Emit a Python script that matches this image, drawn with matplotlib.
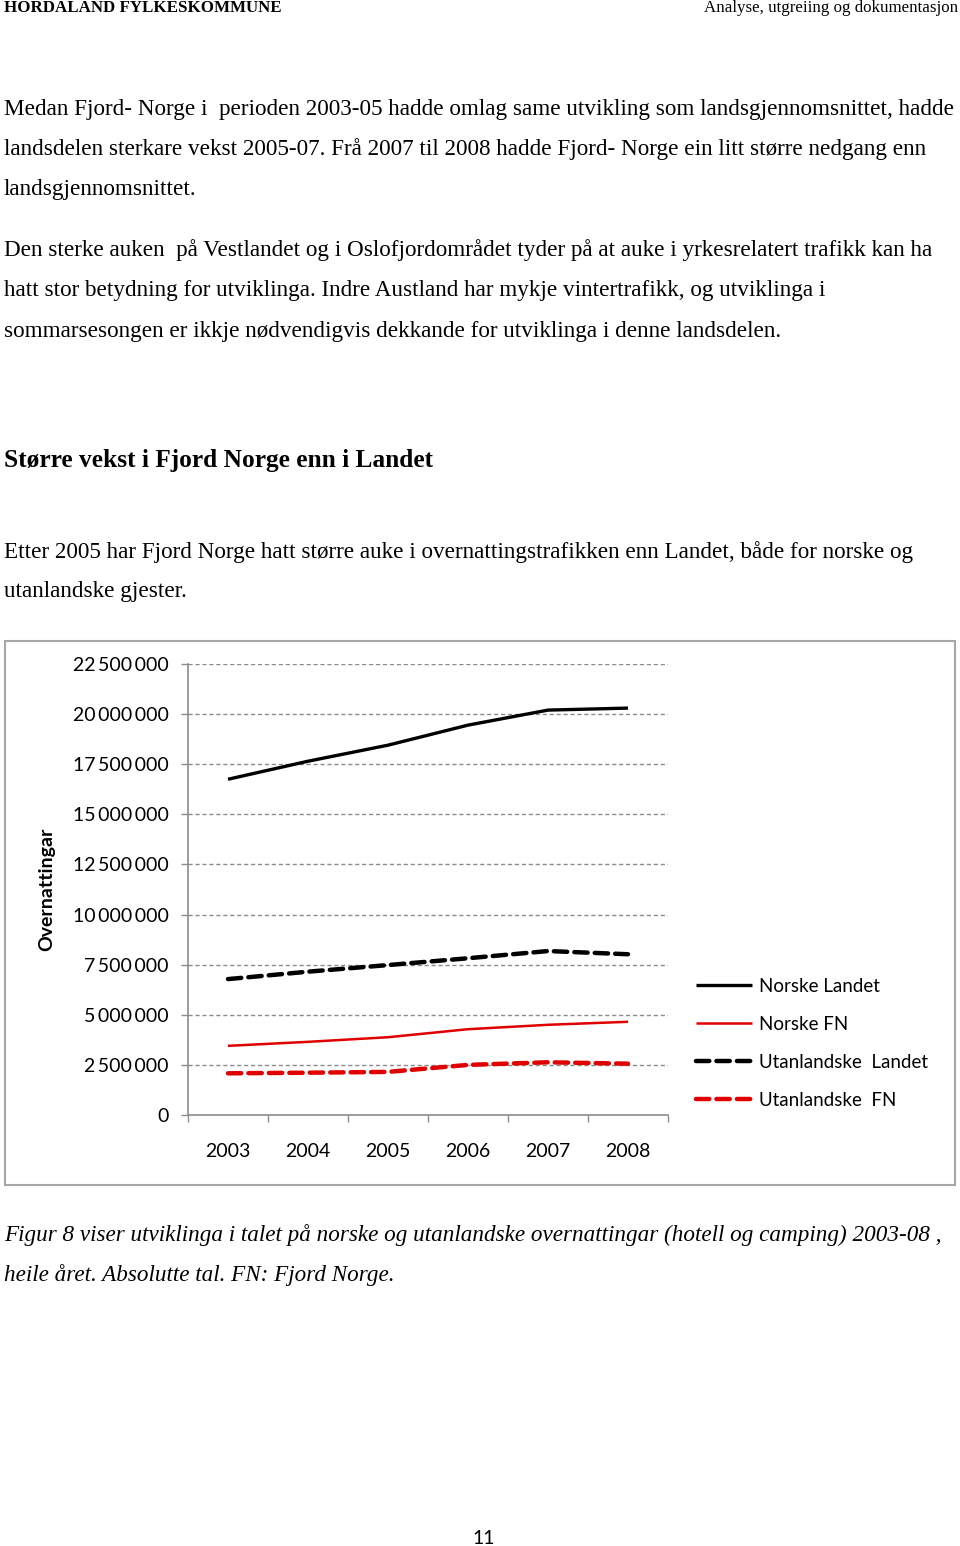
"""Page 11 -- Overnattingar Fjord Norge vs Landet, 2003-08 (re-draw)."""

import matplotlib
matplotlib.use("Agg")
import matplotlib.pyplot as plt
from matplotlib.patches import Rectangle
from matplotlib.ticker import FuncFormatter

# --------------------------------------------------------------------------- #
#  Data
# --------------------------------------------------------------------------- #
YEARS = ["2003", "2004", "2005", "2006", "2007", "2008"]

NORSKE_LANDET      = [16_750_000, 17_650_000, 18_450_000, 19_450_000, 20_200_000, 20_300_000]
NORSKE_FN          = [3_450_000, 3_650_000, 3_880_000, 4_280_000, 4_500_000, 4_650_000]
UTANLANDSKE_LANDET = [6_780_000, 7_150_000, 7_480_000, 7_820_000, 8_180_000, 8_020_000]
UTANLANDSKE_FN     = [2_080_000, 2_110_000, 2_150_000, 2_500_000, 2_630_000, 2_560_000]

SERIES_LABELS = ["Norske Landet", "Norske FN", "Utanlandske  Landet", "Utanlandske  FN"]
Y_TICKS = [0, 2_500_000, 5_000_000, 7_500_000, 10_000_000, 12_500_000,
           15_000_000, 17_500_000, 20_000_000, 22_500_000]

PARA_1 = [
    "Medan Fjord- Norge i  perioden 2003-05 hadde omlag same utvikling som landsgjennomsnittet, hadde",
    "landsdelen sterkare vekst 2005-07. Frå 2007 til 2008 hadde Fjord- Norge ein litt større nedgang enn",
    "landsgjennomsnittet.",
]
PARA_2 = [
    "Den sterke auken  på Vestlandet og i Oslofjordområdet tyder på at auke i yrkesrelatert trafikk kan ha",
    "hatt stor betydning for utviklinga. Indre Austland har mykje vintertrafikk, og utviklinga i",
    "sommarsesongen er ikkje nødvendigvis dekkande for utviklinga i denne landsdelen.",
]
HEADING = "Større vekst i Fjord Norge enn i Landet"
PARA_3 = [
    "Etter 2005 har Fjord Norge hatt større auke i overnattingstrafikken enn Landet, både for norske og",
    "utanlandske gjester.",
]
CAPTION = [
    "Figur 8 viser utviklinga i talet på norske og utanlandske overnattingar (hotell og camping) 2003-08 ,",
    "heile året. Absolutte tal. FN: Fjord Norge.",
]

# --------------------------------------------------------------------------- #
#  Config
# --------------------------------------------------------------------------- #
W, H = 960, 1546
SERIF = "Liberation Serif"
SANS = "Lato"
RED = "#E00000"
GRID = "#8c8c8c"


def fx(x):
    return x / W


def fy(y):
    return 1 - y / H


def page_text(fig, x, y, s, **kw):
    kw.setdefault("family", SERIF)
    kw.setdefault("fontsize", 16.7)
    kw.setdefault("va", "center")
    fig.text(fx(x), fy(y), s, **kw)


def build_page():
    fig = plt.figure(figsize=(W / 100, H / 100), dpi=100)

    # header
    page_text(fig, 4, 8, "HORDALAND FYLKESKOMMUNE", fontsize=12.2,
              fontweight="bold")
    page_text(fig, 958, 8, "Analyse, utgreiing og dokumentasjon",
              fontsize=12.2, ha="right")

    for i, line in enumerate(PARA_1):
        page_text(fig, 4, 109 + 40 * i, line)
    for i, line in enumerate(PARA_2):
        page_text(fig, 4, 250 + 40.5 * i, line)
    page_text(fig, 4, 460, HEADING, fontsize=18.3, fontweight="bold")
    for i, line in enumerate(PARA_3):
        page_text(fig, 4, 552 + 40 * i, line)
    for i, line in enumerate(CAPTION):
        page_text(fig, 4, 1235 + 40 * i, line, style="italic")

    page_text(fig, 484, 1538, "11", family=SANS, fontsize=14, ha="center")

    # chart frame
    fig.patches.append(Rectangle((fx(5), fy(1185)), fx(950), 544 / H,
                                 transform=fig.transFigure, fill=False,
                                 edgecolor="#a6a6a6", linewidth=1.5))

    # chart
    ax = fig.add_axes([fx(188), fy(1115), 480 / W, 451 / H])
    x = range(len(YEARS))
    ax.plot(x, NORSKE_LANDET, color="black", lw=2.4,
            solid_capstyle="butt", label=SERIES_LABELS[0])
    ax.plot(x, NORSKE_FN, color=RED, lw=1.8,
            solid_capstyle="butt", label=SERIES_LABELS[1])
    ax.plot(x, UTANLANDSKE_LANDET, color="black", lw=3.2,
            dashes=(3.0, 1.6), dash_capstyle="round", label=SERIES_LABELS[2])
    ax.plot(x, UTANLANDSKE_FN, color=RED, lw=3.2,
            dashes=(3.0, 1.6), dash_capstyle="round", label=SERIES_LABELS[3])

    ax.set_xlim(-0.5, len(YEARS) - 0.5)
    ax.set_ylim(0, 22_500_000)
    ax.set_xticks([i - 0.5 for i in range(len(YEARS) + 1)], minor=False)
    ax.set_xticklabels([])
    ax.set_xticks(list(x), minor=True)
    ax.set_xticklabels(YEARS, minor=True)
    ax.tick_params(axis="x", which="major", length=5, color=GRID, width=1)
    ax.tick_params(axis="x", which="minor", length=0, pad=20,
                   labelsize=14, labelfontfamily=SANS)

    ax.set_yticks(Y_TICKS)
    ax.yaxis.set_major_formatter(
        FuncFormatter(lambda v, _: f"{int(v):,}".replace(",", "\u2009")))
    ax.tick_params(axis="y", length=5, color=GRID, width=1, pad=9,
                   labelsize=14, labelfontfamily=SANS)
    ax.grid(axis="y", color=GRID, linestyle=(0, (3, 2)), linewidth=1.0)
    ax.set_axisbelow(True)

    for side in ("top", "right"):
        ax.spines[side].set_visible(False)
    for side in ("left", "bottom"):
        ax.spines[side].set_color(GRID)
        ax.spines[side].set_linewidth(1.2)

    ax.set_ylabel("Overnattingar", family=SANS, fontsize=14,
                  fontweight="bold")
    ax.yaxis.set_label_coords((55 - 188) / 480, 0.5)

    fig.legend(loc="upper left", bbox_to_anchor=(fx(688), fy(970)),
               frameon=False, prop={"family": SANS, "size": 13.5},
               handlelength=3.0, handletextpad=0.4, labelspacing=1.12,
               borderaxespad=0)

    return fig


def main():
    fig = build_page()
    fig.savefig("out.png", dpi=100)
    plt.close(fig)


if __name__ == "__main__":
    main()
